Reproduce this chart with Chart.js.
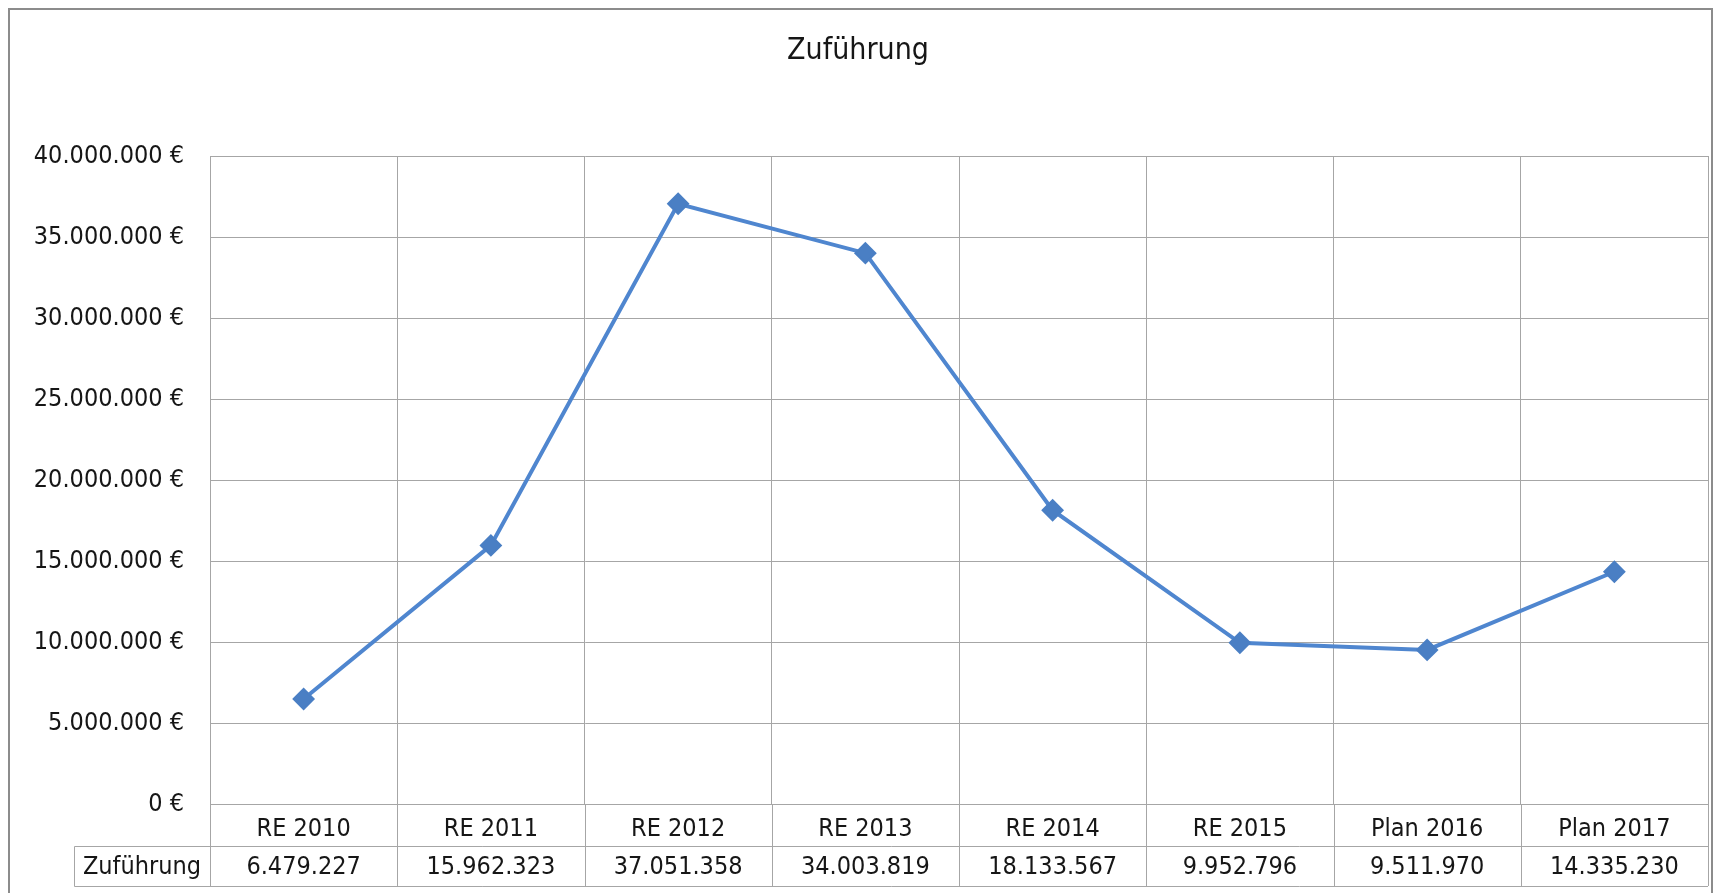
<!DOCTYPE html>
<html>
<head>
<meta charset="utf-8">
<script src="https://cdn.jsdelivr.net/npm/chart.js@4.4.1/dist/chart.umd.min.js"></script>
<style>
  html, body { margin: 0; padding: 0; background: #ffffff; }
  canvas { display: block; }
</style>
</head>
<body>
<canvas id="c" width="1714" height="893"></canvas>
<script>
// ---- data ----
const chartTitle = "Zuführung";
const seriesName = "Zuführung";
const categories = ["RE 2010", "RE 2011", "RE 2012", "RE 2013", "RE 2014", "RE 2015", "Plan 2016", "Plan 2017"];
const values = [6479227, 15962323, 37051358, 34003819, 18133567, 9952796, 9511970, 14335230];
const yMin = 0;
const yMax = 40000000;
const yStep = 5000000;

// ---- helpers ----
function fmt(v) {
  return String(Math.round(v)).replace(/\B(?=(\d{3})+(?!\d))/g, ".");
}
const FONT = "'DejaVu Sans Condensed', 'DejaVu Sans', sans-serif";
const GRID = "#a6a6a6";
const TEXT = "#161616";

const tablePlugin = {
  id: "dataTable",
  afterDraw(chart) {
    const ctx = chart.ctx;
    const xs = chart.scales.x;
    const area = chart.chartArea;
    const rowTop = area.bottom;
    const rowMid = rowTop + 42;
    const rowBot = rowTop + 82;
    const tableLeft = 74;
    ctx.save();
    ctx.strokeStyle = GRID;
    ctx.lineWidth = 1;
    const n = categories.length;
    const half = (xs.getPixelForValue(1) - xs.getPixelForValue(0)) / 2;
    for (let i = 0; i <= n; i++) {
      const bx = Math.round(xs.getPixelForValue(i) - half) + 0.5;
      ctx.beginPath();
      ctx.moveTo(bx, rowTop);
      ctx.lineTo(bx, rowBot);
      ctx.stroke();
    }
    ctx.beginPath();
    ctx.moveTo(tableLeft + 0.5, Math.round(rowMid) + 0.5);
    ctx.lineTo(area.right, Math.round(rowMid) + 0.5);
    ctx.moveTo(tableLeft + 0.5, Math.round(rowBot) + 0.5);
    ctx.lineTo(area.right, Math.round(rowBot) + 0.5);
    ctx.moveTo(tableLeft + 0.5, Math.round(rowMid) + 0.5);
    ctx.lineTo(tableLeft + 0.5, Math.round(rowBot) + 0.5);
    ctx.stroke();
    ctx.fillStyle = TEXT;
    ctx.font = "25px " + FONT;
    ctx.textBaseline = "middle";
    ctx.textAlign = "center";
    const ty = (rowMid + rowBot) / 2 + 1;
    ctx.fillText(seriesName, (tableLeft + area.left) / 2, ty);
    for (let i = 0; i < n; i++) {
      ctx.fillText(fmt(values[i]), xs.getPixelForValue(i), ty);
    }
    ctx.strokeStyle = "#8c8c8c";
    ctx.lineWidth = 2;
    ctx.strokeRect(9, 9, 1703, 900);
    ctx.restore();
  }
};

new Chart(document.getElementById("c"), {
  type: "line",
  data: {
    labels: categories,
    datasets: [{
      label: seriesName,
      data: values,
      borderColor: "#4f86cf",
      borderWidth: 4,
      backgroundColor: "#4a7fc4",
      pointStyle: "rectRot",
      pointRadius: 10,
      pointBorderWidth: 2,
      pointBorderColor: "#4a7fc4",
      pointBackgroundColor: "#4a7fc4",
      tension: 0,
      fill: false
    }]
  },
  options: {
    responsive: false,
    devicePixelRatio: 1,
    animation: false,
    layout: { autoPadding: false, padding: { left: 8, right: 6, top: 0, bottom: 0 } },
    plugins: {
      legend: { display: false },
      tooltip: { enabled: false },
      title: {
        display: true,
        text: chartTitle,
        color: TEXT,
        font: { family: FONT, size: 30, weight: "normal", lineHeight: 1.2 },
        padding: { top: 33, bottom: 87 }
      }
    },
    scales: {
      x: {
        offset: true,
        grid: { color: GRID, offset: true, drawTicks: false, lineWidth: 1 },
        border: { color: GRID },
        ticks: { color: TEXT, font: { family: FONT, size: 25 }, padding: 10, maxRotation: 0, autoSkip: false },
        afterFit(s) { s.height = 89; s.paddingLeft = 0; s.paddingRight = 0; }
      },
      y: {
        min: yMin,
        max: yMax,
        grid: { color: GRID, drawTicks: false, lineWidth: 1 },
        border: { color: GRID },
        ticks: {
          stepSize: yStep,
          color: TEXT,
          font: { family: FONT, size: 25 },
          padding: 26,
          callback: (v) => fmt(v) + " €"
        },
        afterFit(s) { s.width = 202; }
      }
    }
  },
  plugins: [tablePlugin]
});
</script>
</body>
</html>
